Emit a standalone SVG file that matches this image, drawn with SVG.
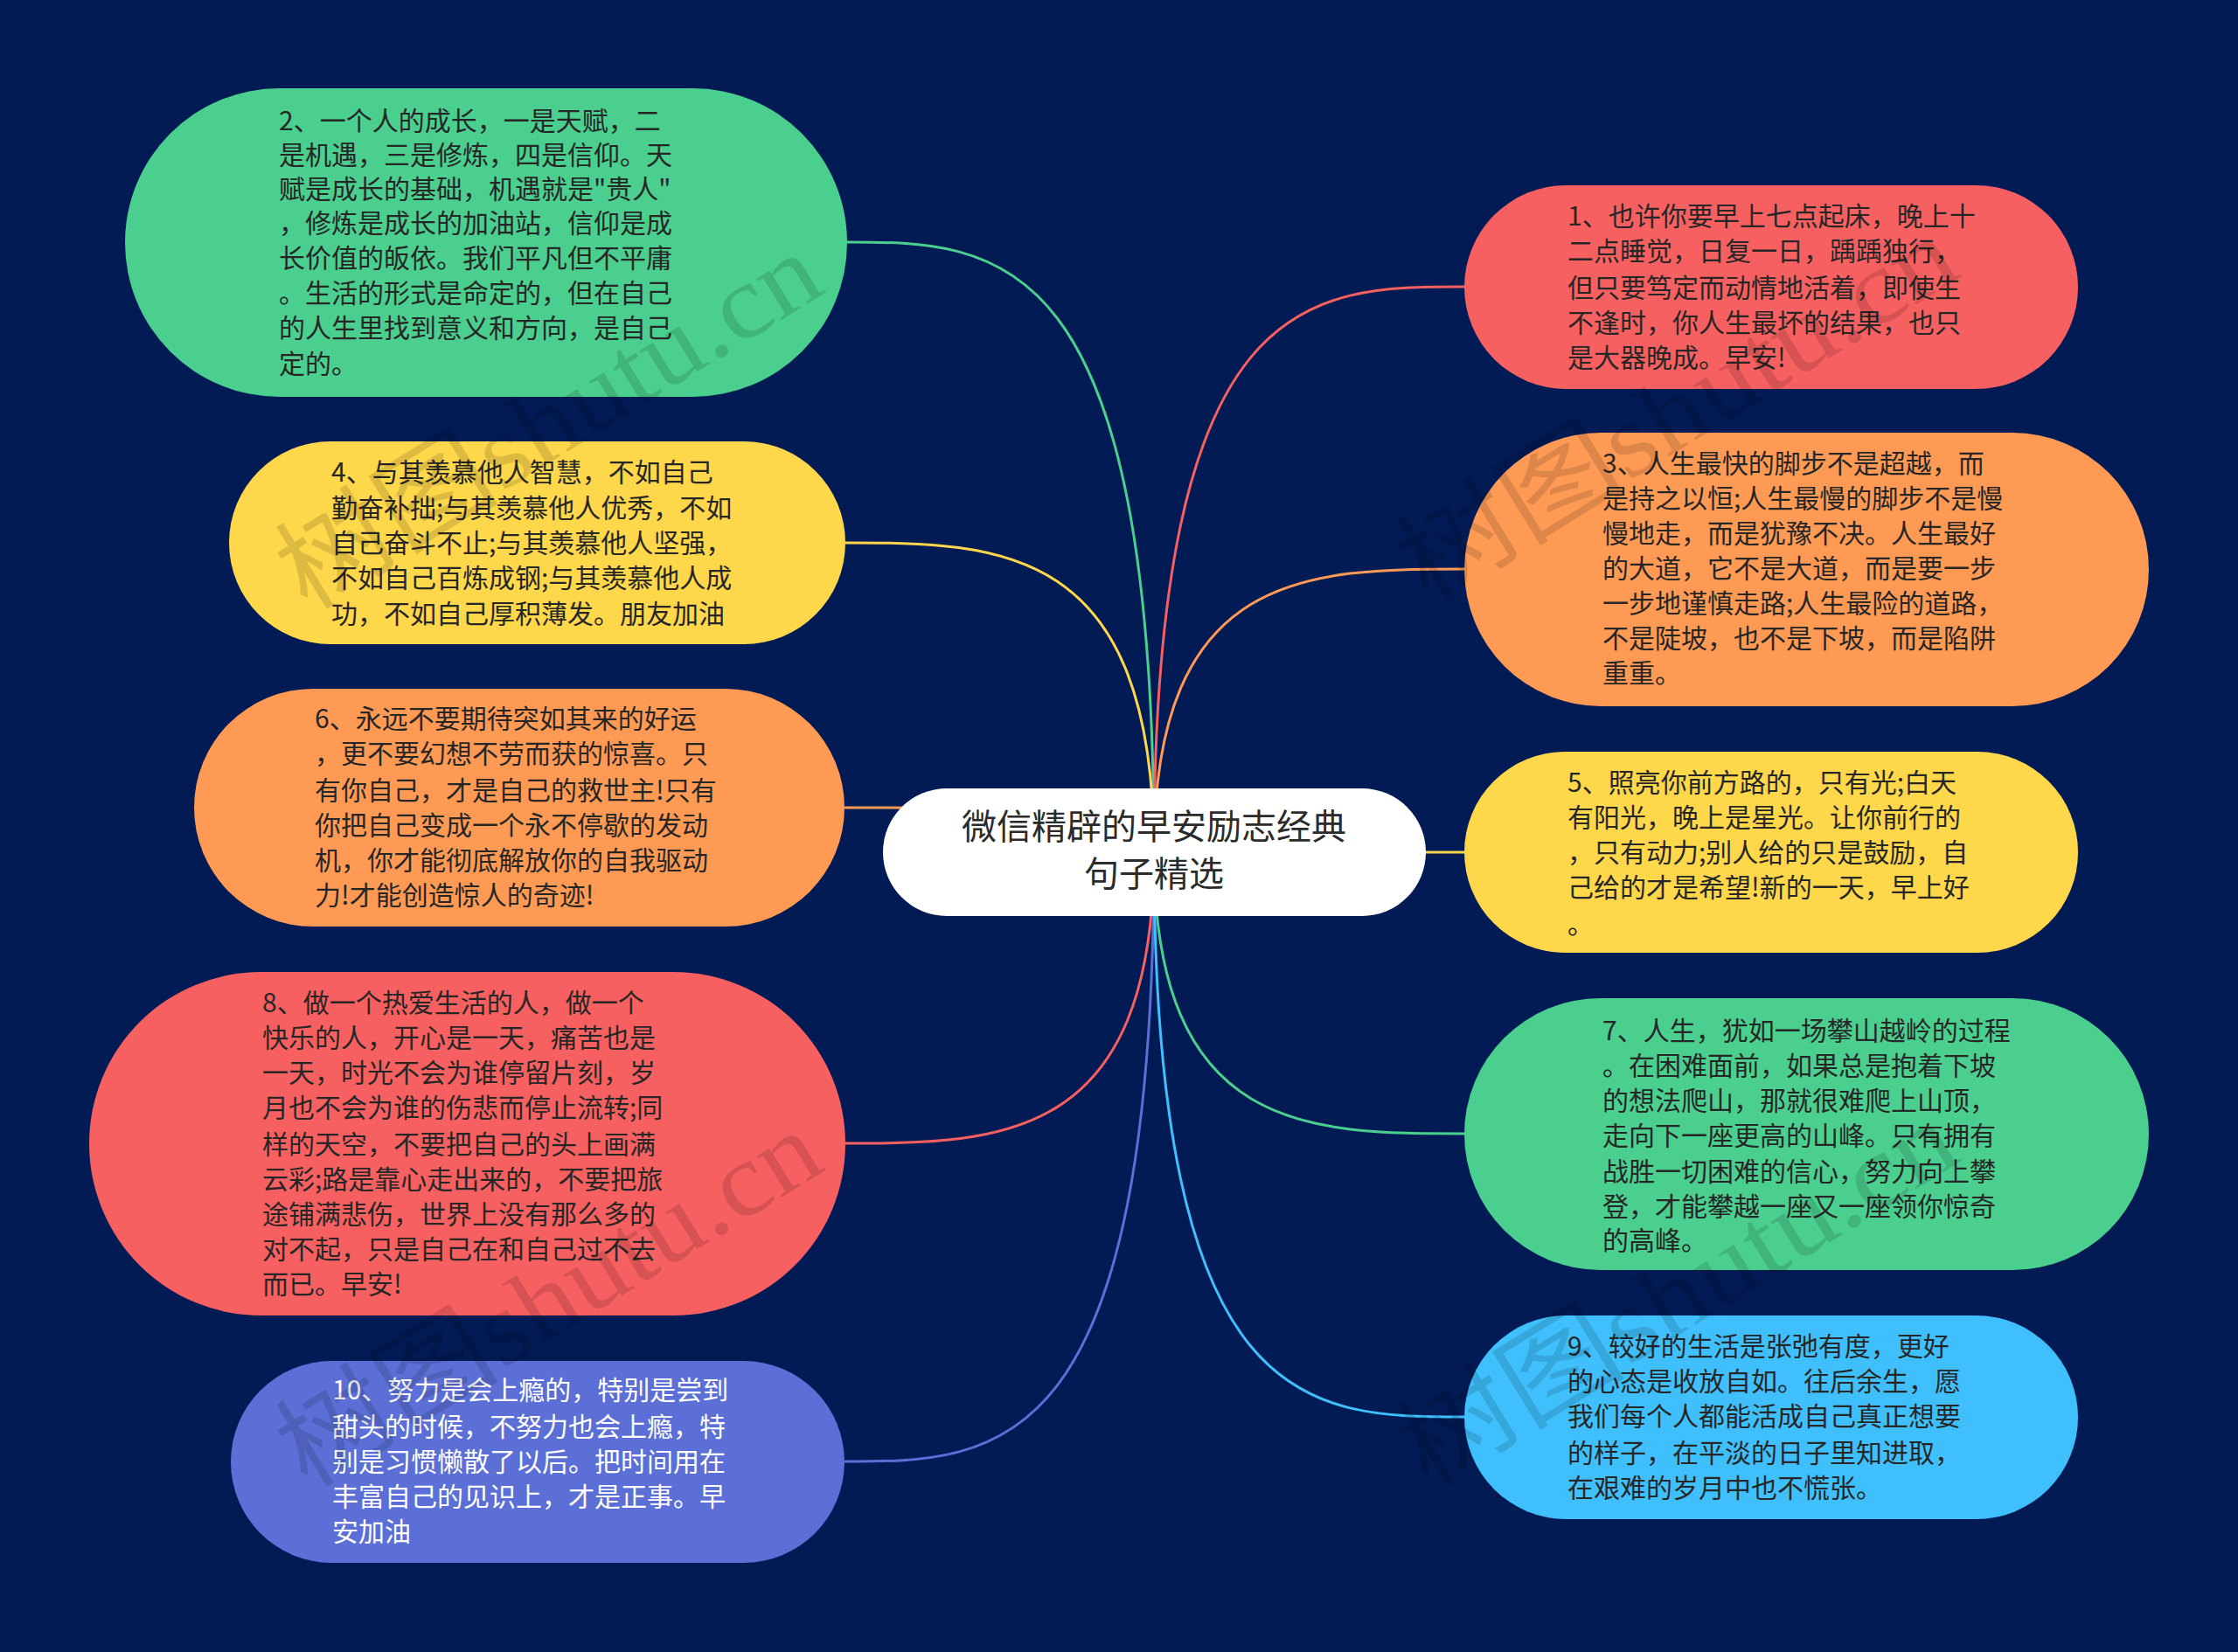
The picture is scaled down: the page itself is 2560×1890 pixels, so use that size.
<svg xmlns="http://www.w3.org/2000/svg" width="2560" height="1890" viewBox="0 0 2560 1890">
<style>
.bg{fill:#021b54}
.t{font-family:"Noto Sans CJK SC","Noto Sans",sans-serif;font-size:30px;fill:#262626}
.tw{fill:#ffffff}
.ct{font-family:"Noto Sans CJK SC","Noto Sans",sans-serif;font-size:40px;fill:#2b2b2b;text-anchor:middle}
.c{fill:none;stroke-width:3;stroke-linecap:round}
.wm{font-family:"Liberation Serif","Noto Sans CJK SC",serif;font-size:120px;fill:#000;fill-opacity:0.13}
.green{fill:#4bcf8f}.yellow{fill:#fed74b}.orange{fill:#fe9a54}.red{fill:#f76060}.blue{fill:#5b6fd6}.cyan{fill:#3fc0fc}
</style>
<rect class="bg" x="0" y="0" width="2560" height="1890"/>
<g id="connectors">
<path class="c" stroke="#4bcf8f" d="M1320 975 C1320 277 1143 277 967 277"/>
<path class="c" stroke="#fed74b" d="M1320 975 C1320 621 1143 621 967 621"/>
<path class="c" stroke="#fe9a54" d="M1320 975 C1320 924 1143 924 967 924"/>
<path class="c" stroke="#f76060" d="M1320 975 C1320 1308 1143 1308 967 1308"/>
<path class="c" stroke="#5b6fd6" d="M1320 975 C1320 1672 1143 1672 967 1672"/>
<path class="c" stroke="#f76060" d="M1320 975 C1320 328 1497 328 1675 328"/>
<path class="c" stroke="#fe9a54" d="M1320 975 C1320 651 1497 651 1675 651"/>
<path class="c" stroke="#fed74b" d="M1320 975 L1675 975"/>
<path class="c" stroke="#4bcf8f" d="M1320 975 C1320 1297 1497 1297 1675 1297"/>
<path class="c" stroke="#3fc0fc" d="M1320 975 C1320 1621 1497 1621 1675 1621"/>
</g>
<g id="center">
<rect x="1010" y="902" width="621" height="146" rx="73" fill="#ffffff"/>
<text class="ct" x="1320" y="960">微信精辟的早安励志经典</text>
<text class="ct" x="1320" y="1014">句子精选</text>
</g>
<g id="node2">
<rect class="green" x="143" y="101" width="826" height="353" rx="176.5"/>
<text class="t" x="319"><tspan x="319" y="149">2、一个人的成长，一是天赋，二</tspan><tspan x="319" y="188">是机遇，三是修炼，四是信仰。天</tspan><tspan x="319" y="227">赋是成长的基础，机遇就是"贵人"</tspan><tspan x="319" y="266">，修炼是成长的加油站，信仰是成</tspan><tspan x="319" y="306">长价值的皈依。我们平凡但不平庸</tspan><tspan x="319" y="346">。生活的形式是命定的，但在自己</tspan><tspan x="319" y="386">的人生里找到意义和方向，是自己</tspan><tspan x="319" y="427">定的。</tspan></text>
</g>
<g id="node4">
<rect class="yellow" x="262" y="505" width="705" height="232" rx="116"/>
<text class="t" x="379"><tspan x="379" y="551">4、与其羡慕他人智慧，不如自己</tspan><tspan x="379" y="592">勤奋补拙;与其羡慕他人优秀，不如</tspan><tspan x="379" y="632">自己奋斗不止;与其羡慕他人坚强，</tspan><tspan x="379" y="672">不如自己百炼成钢;与其羡慕他人成</tspan><tspan x="379" y="713">功，不如自己厚积薄发。朋友加油</tspan></text>
</g>
<g id="node6">
<rect class="orange" x="222" y="788" width="744" height="272" rx="136"/>
<text class="t" x="360"><tspan x="360" y="833">6、永远不要期待突如其来的好运</tspan><tspan x="360" y="873">，更不要幻想不劳而获的惊喜。只</tspan><tspan x="360" y="915">有你自己，才是自己的救世主!只有</tspan><tspan x="360" y="955">你把自己变成一个永不停歇的发动</tspan><tspan x="360" y="995">机，你才能彻底解放你的自我驱动</tspan><tspan x="360" y="1035">力!才能创造惊人的奇迹!</tspan></text>
</g>
<g id="node8">
<rect class="red" x="102" y="1112" width="865" height="393" rx="196.5"/>
<text class="t" x="300"><tspan x="300" y="1158">8、做一个热爱生活的人，做一个</tspan><tspan x="300" y="1198">快乐的人，开心是一天，痛苦也是</tspan><tspan x="300" y="1238">一天，时光不会为谁停留片刻，岁</tspan><tspan x="300" y="1278">月也不会为谁的伤悲而停止流转;同</tspan><tspan x="300" y="1320">样的天空，不要把自己的头上画满</tspan><tspan x="300" y="1360">云彩;路是靠心走出来的，不要把旅</tspan><tspan x="300" y="1400">途铺满悲伤，世界上没有那么多的</tspan><tspan x="300" y="1440">对不起，只是自己在和自己过不去</tspan><tspan x="300" y="1480">而已。早安!</tspan></text>
</g>
<g id="node10">
<rect class="blue" x="264" y="1557" width="702" height="231" rx="115.5"/>
<text class="t tw" x="380"><tspan x="380" y="1601">10、努力是会上瘾的，特别是尝到</tspan><tspan x="380" y="1643">甜头的时候，不努力也会上瘾，特</tspan><tspan x="380" y="1683">别是习惯懒散了以后。把时间用在</tspan><tspan x="380" y="1723">丰富自己的见识上，才是正事。早</tspan><tspan x="380" y="1763">安加油</tspan></text>
</g>
<g id="node1">
<rect class="red" x="1675" y="212" width="702" height="233" rx="116.5"/>
<text class="t" x="1793"><tspan x="1793" y="258">1、也许你要早上七点起床，晚上十</tspan><tspan x="1793" y="298">二点睡觉，日复一日，踽踽独行，</tspan><tspan x="1793" y="340">但只要笃定而动情地活着，即使生</tspan><tspan x="1793" y="380">不逢时，你人生最坏的结果，也只</tspan><tspan x="1793" y="420">是大器晚成。早安!</tspan></text>
</g>
<g id="node3">
<rect class="orange" x="1675" y="495" width="783" height="313" rx="156.5"/>
<text class="t" x="1833"><tspan x="1833" y="541">3、人生最快的脚步不是超越，而</tspan><tspan x="1833" y="581">是持之以恒;人生最慢的脚步不是慢</tspan><tspan x="1833" y="621">慢地走，而是犹豫不决。人生最好</tspan><tspan x="1833" y="661">的大道，它不是大道，而是要一步</tspan><tspan x="1833" y="701">一步地谨慎走路;人生最险的道路，</tspan><tspan x="1833" y="741">不是陡坡，也不是下坡，而是陷阱</tspan><tspan x="1833" y="781">重重。</tspan></text>
</g>
<g id="node5">
<rect class="yellow" x="1675" y="860" width="702" height="230" rx="115"/>
<text class="t" x="1793"><tspan x="1793" y="906">5、照亮你前方路的，只有光;白天</tspan><tspan x="1793" y="946">有阳光，晚上是星光。让你前行的</tspan><tspan x="1793" y="986">，只有动力;别人给的只是鼓励，自</tspan><tspan x="1793" y="1026">己给的才是希望!新的一天，早上好</tspan><tspan x="1793" y="1068">。</tspan></text>
</g>
<g id="node7">
<rect class="green" x="1675" y="1142" width="783" height="311" rx="155.5"/>
<text class="t" x="1833"><tspan x="1833" y="1190">7、人生，犹如一场攀山越岭的过程</tspan><tspan x="1833" y="1230">。在困难面前，如果总是抱着下坡</tspan><tspan x="1833" y="1270">的想法爬山，那就很难爬上山顶，</tspan><tspan x="1833" y="1310">走向下一座更高的山峰。只有拥有</tspan><tspan x="1833" y="1351">战胜一切困难的信心，努力向上攀</tspan><tspan x="1833" y="1391">登，才能攀越一座又一座领你惊奇</tspan><tspan x="1833" y="1430">的高峰。</tspan></text>
</g>
<g id="node9">
<rect class="cyan" x="1675" y="1505" width="702" height="233" rx="116.5"/>
<text class="t" x="1793"><tspan x="1793" y="1551">9、较好的生活是张弛有度，更好</tspan><tspan x="1793" y="1591">的心态是收放自如。往后余生，愿</tspan><tspan x="1793" y="1631">我们每个人都能活成自己真正想要</tspan><tspan x="1793" y="1673">的样子，在平淡的日子里知进取，</tspan><tspan x="1793" y="1713">在艰难的岁月中也不慌张。</tspan></text>
</g>
<g id="watermark">
<text class="wm" x="351" y="700" textLength="700" lengthAdjust="spacingAndGlyphs" transform="rotate(-31.6 351 700)">树图shutu.cn</text>
<text class="wm" x="351" y="1704" textLength="700" lengthAdjust="spacingAndGlyphs" transform="rotate(-31.6 351 1704)">树图shutu.cn</text>
<text class="wm" x="1633" y="692" textLength="720" lengthAdjust="spacingAndGlyphs" transform="rotate(-31.6 1633 692)">树图shutu.cn</text>
<text class="wm" x="1633" y="1704" textLength="720" lengthAdjust="spacingAndGlyphs" transform="rotate(-31.6 1633 1704)">树图shutu.cn</text>
</g>
</svg>
